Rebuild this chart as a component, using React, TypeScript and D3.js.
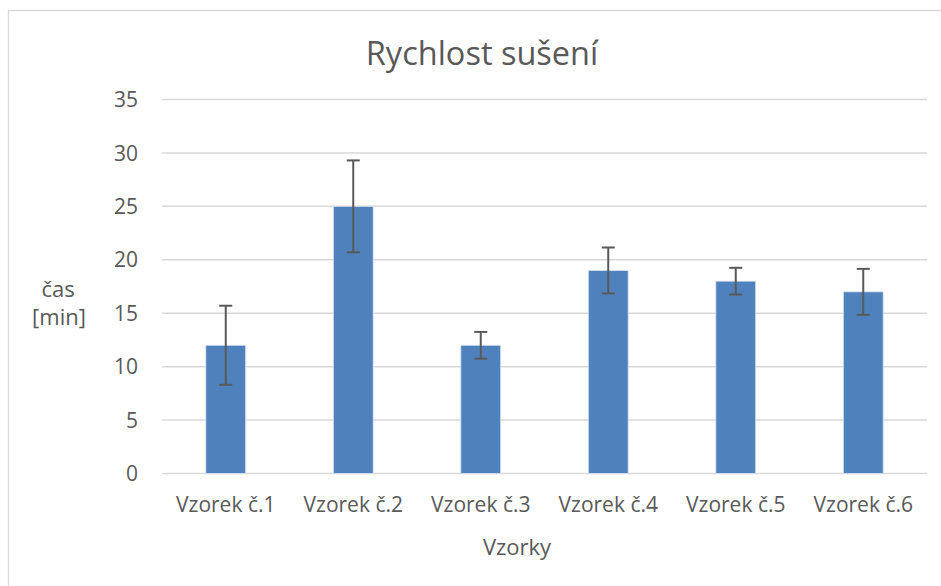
import React from "react";
import * as d3 from "d3";

const categories = ["Vzorek č.1", "Vzorek č.2", "Vzorek č.3", "Vzorek č.4", "Vzorek č.5", "Vzorek č.6"];
const values = [12, 25, 12, 19, 18, 17];
const errors = [3.7, 4.3, 1.25, 2.15, 1.25, 2.15];
const yTicks = [0, 5, 10, 15, 20, 25, 30, 35];
const title = "Rychlost sušení";
const xTitle = "Vzorky";
const yTitle = ["čas", "[min]"];

const W = 941, H = 586;
const left = 162, right = 927, top = 99.5, bottom = 473.5;
const FONT = "'Open Sans', sans-serif";
const TXT = "#595959";

export default function App() {
  const x = d3.scaleBand().domain(categories).range([left, right]).paddingInner(0.6875).paddingOuter(0.34375);
  const y = d3.scaleLinear().domain([0, 35]).range([bottom, top]);
  const bw = x.bandwidth();
  return (
    <svg width={W} height={H} style={{ position: "absolute", left: 0, top: 0, background: "#fff" }}>
      <rect x={8.5} y={10.5} width={W} height={H} fill="#fff" stroke="#d9d9d9" strokeWidth={1.3} />
      <text x={482} y={64.5} textAnchor="middle" fontFamily={FONT} fontSize={32.5} fill={TXT}>{title}</text>
      {yTicks.map((t) => (
        <g key={t}>
          <line x1={left} x2={right} y1={y(t)} y2={y(t)} stroke="#d9d9d9" strokeWidth={1.5} />
          <text x={138} y={y(t) + 7.6} textAnchor="end" fontFamily={FONT} fontSize={21} fill={TXT}>{t}</text>
        </g>
      ))}
      {categories.map((c, i) => {
        const cx = x(c)! + bw / 2;
        return (
          <g key={c}>
            <rect x={x(c)} y={y(values[i])} width={bw} height={y(0) - y(values[i])} fill="#4f81bd" stroke="#dbe4f0" strokeWidth={0.8} />
            <line x1={cx} x2={cx} y1={y(values[i] + errors[i])} y2={y(values[i] - errors[i])} stroke="#595959" strokeWidth={2} />
            <line x1={cx - 6.5} x2={cx + 6.5} y1={y(values[i] + errors[i])} y2={y(values[i] + errors[i])} stroke="#595959" strokeWidth={2} />
            <line x1={cx - 6.5} x2={cx + 6.5} y1={y(values[i] - errors[i])} y2={y(values[i] - errors[i])} stroke="#595959" strokeWidth={2} />
            <text x={cx} y={512} textAnchor="middle" fontFamily={FONT} fontSize={21} fill={TXT}>{c}</text>
          </g>
        );
      })}
      <text x={517} y={555} textAnchor="middle" fontFamily={FONT} fontSize={22} fill={TXT}>{xTitle}</text>
      <text x={58} y={296.5} textAnchor="middle" fontFamily={FONT} fontSize={22} fill={TXT}>{yTitle[0]}</text>
      <text x={59} y={325} textAnchor="middle" fontFamily={FONT} fontSize={22} fill={TXT}>{yTitle[1]}</text>
    </svg>
  );
}
